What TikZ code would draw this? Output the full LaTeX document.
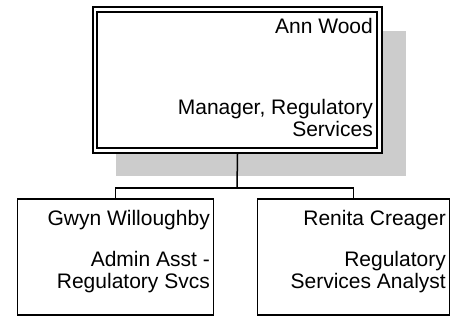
\documentclass[tikz,border=0pt]{standalone}
\usepackage{fontspec}
\setmainfont{Liberation Sans}
\definecolor{shadowgray}{RGB}{204,204,204}
\begin{document}
\begin{tikzpicture}[x=1pt,y=-1pt,
  txt/.style={anchor=base east,inner sep=0pt,font=\fontsize{21}{22}\selectfont},
  boxo/.style={draw=black,line width=2pt,inner sep=0pt},
  boxi/.style={draw=black,line width=1.2pt,inner sep=0pt},
  boxs/.style={draw=black,line width=1.5pt,inner sep=0pt},
  link/.style={draw=black,line width=1.5pt}]
\useasboundingbox (0,0) rectangle (454,320);
% shadow
\fill[shadowgray] (116,31) rectangle (406,176);
% top box
\node[boxo,fill=white,minimum width=289pt,minimum height=146pt] (top) at (237.5,80) {};
\node[boxi,minimum width=280pt,minimum height=136pt] (topin) at (237,80) {};
% bottom boxes
\node[boxs,minimum width=196pt,minimum height=116pt] (left) at (115.3,257) {};
\node[boxs,minimum width=192pt,minimum height=116pt] (right) at (353.7,257) {};
% connectors
\coordinate (bus) at (237,188);
\draw[link] (top.south) -- (bus);
\draw[link] (left.north) |- (bus) -| (right.north);
% texts
\node[txt] (t1) at (373,34) {Ann Wood};
\node[txt] (t2) at (373,115) {Manager, Regulatory};
\node[txt] (t3) at (373,137) {Services};
\node[txt] (l1) at (210,225) {Gwyn Willoughby};
\node[txt] (l2) at (210,266) {Admin Asst -};
\node[txt] (l3) at (210,288) {Regulatory Svcs};
\node[txt] (r1) at (446,225) {Renita Creager};
\node[txt] (r2) at (446,266) {Regulatory};
\node[txt] (r3) at (446,288) {Services Analyst};
\end{tikzpicture}
\end{document}
